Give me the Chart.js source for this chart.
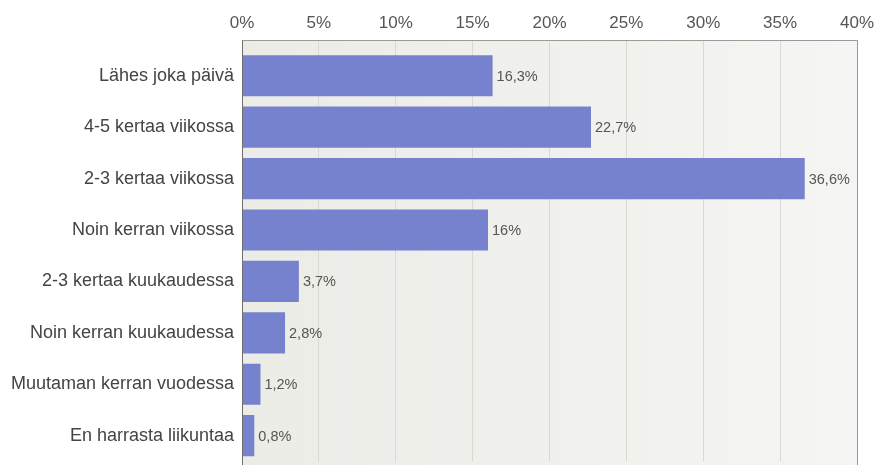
<!DOCTYPE html>
<html lang="fi">
<head>
<meta charset="utf-8">
<title>Liikunnan harrastaminen</title>
<script src="https://cdn.jsdelivr.net/npm/chart.js@4.4.1/dist/chart.umd.min.js"></script>
<style>
    html, body { margin: 0; padding: 0; background: #ffffff; }
    #DivGrafico { width: 874px; height: 465px; }
</style>
</head>
<body>
<div id="DivGrafico"><canvas id="grafica"></canvas></div>
<script>
const kategoriat = [
    "Lähes joka päivä",
    "4-5 kertaa viikossa",
    "2-3 kertaa viikossa",
    "Noin kerran viikossa",
    "2-3 kertaa kuukaudessa",
    "Noin kerran kuukaudessa",
    "Muutaman kerran vuodessa",
    "En harrasta liikuntaa"
];
const osuudet = [16.3, 22.7, 36.6, 16, 3.7, 2.8, 1.2, 0.8];
const asteikko = [0, 5, 10, 15, 20, 25, 30, 35, 40];

const fontti = "'Liberation Sans', Arial, sans-serif";
const YLARAKO = 10; // kehys alkaa hieman piirtoalueen yläpuolelta

function prosentti(arvo) {
    return String(arvo).replace(".", ",") + "%";
}

// akselien ei tarvitse varata tilaa reunimmaisille teksteille
function nollaaReunat(scale) {
    scale.paddingTop = 0;
    scale.paddingBottom = 0;
    scale.paddingLeft = 0;
    scale.paddingRight = 0;
}

// taustalaatikko ja reunaviivat
const kehys = {
    id: "kehys",
    beforeDraw(chart) {
        const { ctx, chartArea } = chart;
        const ylä = chartArea.top - YLARAKO;
        const ala = chart.height;
        let grad = ctx.createLinearGradient(chartArea.left, 0, chartArea.right, 0);
        grad.addColorStop(0, "#ebece6");
        grad.addColorStop(1, "#f5f6f3");
        ctx.save();
        ctx.fillStyle = grad;
        ctx.fillRect(chartArea.left, ylä, chartArea.right - chartArea.left, ala - ylä);
        ctx.restore();
    },
    afterDraw(chart) {
        const { ctx, chartArea } = chart;
        const ylä = chartArea.top - YLARAKO + 0.5;
        const ala = chart.height;
        ctx.save();
        ctx.lineWidth = 1;
        ctx.strokeStyle = "#9a9a9a";
        ctx.beginPath();
        ctx.moveTo(chartArea.left, ylä);
        ctx.lineTo(chartArea.right + 0.5, ylä);
        ctx.moveTo(chartArea.right + 0.5, ylä);
        ctx.lineTo(chartArea.right + 0.5, ala);
        ctx.stroke();
        ctx.strokeStyle = "#6f6f6f";
        ctx.beginPath();
        ctx.moveTo(chartArea.left + 0.5, ylä);
        ctx.lineTo(chartArea.left + 0.5, ala);
        ctx.stroke();
        ctx.restore();
    }
};

// arvot palkkien perään
const arvot = {
    id: "arvot",
    afterDatasetsDraw(chart) {
        const { ctx } = chart;
        const meta = chart.getDatasetMeta(0);
        ctx.save();
        ctx.font = "14.5px " + fontti;
        ctx.fillStyle = "#555555";
        ctx.textAlign = "left";
        ctx.textBaseline = "middle";
        meta.data.forEach((palkki, i) => {
            ctx.fillText(prosentti(osuudet[i]), palkki.x + 4, palkki.y + 1);
        });
        ctx.restore();
    }
};

const data = {
    labels: kategoriat,
    datasets: [{
        data: osuudet,
        backgroundColor: "#7682cd",
        borderWidth: 0,
        categoryPercentage: 0.8,
        barPercentage: 1
    }]
};

const config = {
    type: "bar",
    data: data,
    options: {
        indexAxis: "y",
        responsive: true,
        maintainAspectRatio: false,
        animation: false,
        layout: { padding: { top: 0, right: 17, bottom: 3.6, left: 0 } },
        plugins: {
            legend: { display: false },
            tooltip: { enabled: false }
        },
        scales: {
            x: {
                position: "top",
                min: 0,
                max: 40,
                afterBuildTicks(scale) {
                    scale.ticks = asteikko.map(v => ({ value: v }));
                },
                afterFit(scale) {
                    scale.height = 50;
                    nollaaReunat(scale);
                },
                border: { display: false },
                grid: { color: "#d8d9d3", tickLength: YLARAKO, tickColor: "#d8d9d3" },
                ticks: {
                    padding: 6,
                    color: "#555555",
                    font: { family: fontti, size: 17 },
                    callback: v => v + "%"
                }
            },
            y: {
                afterFit(scale) {
                    scale.width = 242;
                    nollaaReunat(scale);
                },
                border: { display: false },
                grid: { display: false, drawTicks: false },
                ticks: {
                    padding: 8,
                    color: "#444444",
                    font: { family: fontti, size: 18 }
                }
            }
        }
    },
    plugins: [kehys, arvot]
};

let ChartPrincipal = new Chart(document.getElementById("grafica"), config);
</script>
</body>
</html>
